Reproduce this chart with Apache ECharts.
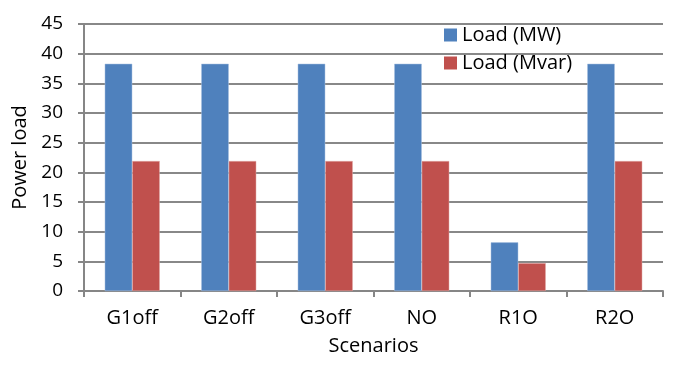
<!DOCTYPE html>
<html><head><meta charset="utf-8">
<script src="https://cdn.jsdelivr.net/npm/echarts@6/dist/echarts.min.js"></script>
<style>html,body{margin:0;padding:0;background:#fff}#c{width:685px;height:367px}</style>
</head><body><div id="c"></div>
<script>
const categories = ["G1off", "G2off", "G3off", "NO", "R1O", "R2O"];
const loadMW = [38.3, 38.3, 38.3, 38.3, 8.2, 38.3];
const loadMvar = [21.9, 21.9, 21.9, 21.9, 4.7, 21.9];
const yTicks = {min: 0, max: 45, interval: 5};

const font = "'Open Sans', 'Noto Sans', sans-serif";
const chart = echarts.init(document.getElementById('c'), null, {renderer: 'canvas'});
chart.setOption({
  animation: false,
  textStyle: {fontFamily: font},
  grid: {left: 84, right: 22, top: 24, bottom: 76, containLabel: false},
  legend: {
    orient: 'vertical', left: 439, top: 20, itemWidth: 13, itemHeight: 13, itemGap: 8,
    icon: 'rect', itemStyle: {borderWidth: 0},
    textStyle: {fontFamily: font, fontSize: 20, color: '#000'},
    data: ['Load (MW)', 'Load (Mvar)']
  },
  xAxis: {
    type: 'category', data: categories,
    name: 'Scenarios', nameLocation: 'middle', nameGap: 45,
    nameTextStyle: {fontFamily: font, fontSize: 20, color: '#000'},
    axisLine: {lineStyle: {color: '#868686', width: 2}},
    axisTick: {show: true, length: 6, lineStyle: {color: '#868686', width: 2}},
    axisLabel: {fontFamily: font, fontSize: 20, color: '#000', margin: 17}
  },
  yAxis: {
    type: 'value', min: yTicks.min, max: yTicks.max, interval: yTicks.interval,
    name: 'Power load', nameLocation: 'middle', nameGap: 52,
    nameTextStyle: {fontFamily: font, fontSize: 20, color: '#000'},
    axisLine: {show: true, lineStyle: {color: '#868686', width: 2}},
    axisTick: {show: true, length: 6, lineStyle: {color: '#868686', width: 2}},
    axisLabel: {fontFamily: font, fontSize: 19, color: '#000', margin: 21},
    splitLine: {lineStyle: {color: '#888888', width: 2}}
  },
  series: [
    {name: 'Load (MW)', type: 'bar', data: loadMW, barWidth: '28.5%', barGap: '0%',
     itemStyle: {color: '#4F81BD', borderColor: '#a9c0e0', borderWidth: 0.5}},
    {name: 'Load (Mvar)', type: 'bar', data: loadMvar, barWidth: '28.5%', barGap: '0%',
     itemStyle: {color: '#C0504D', borderColor: '#e0a9a7', borderWidth: 0.5}}
  ]
});
</script></body></html>
